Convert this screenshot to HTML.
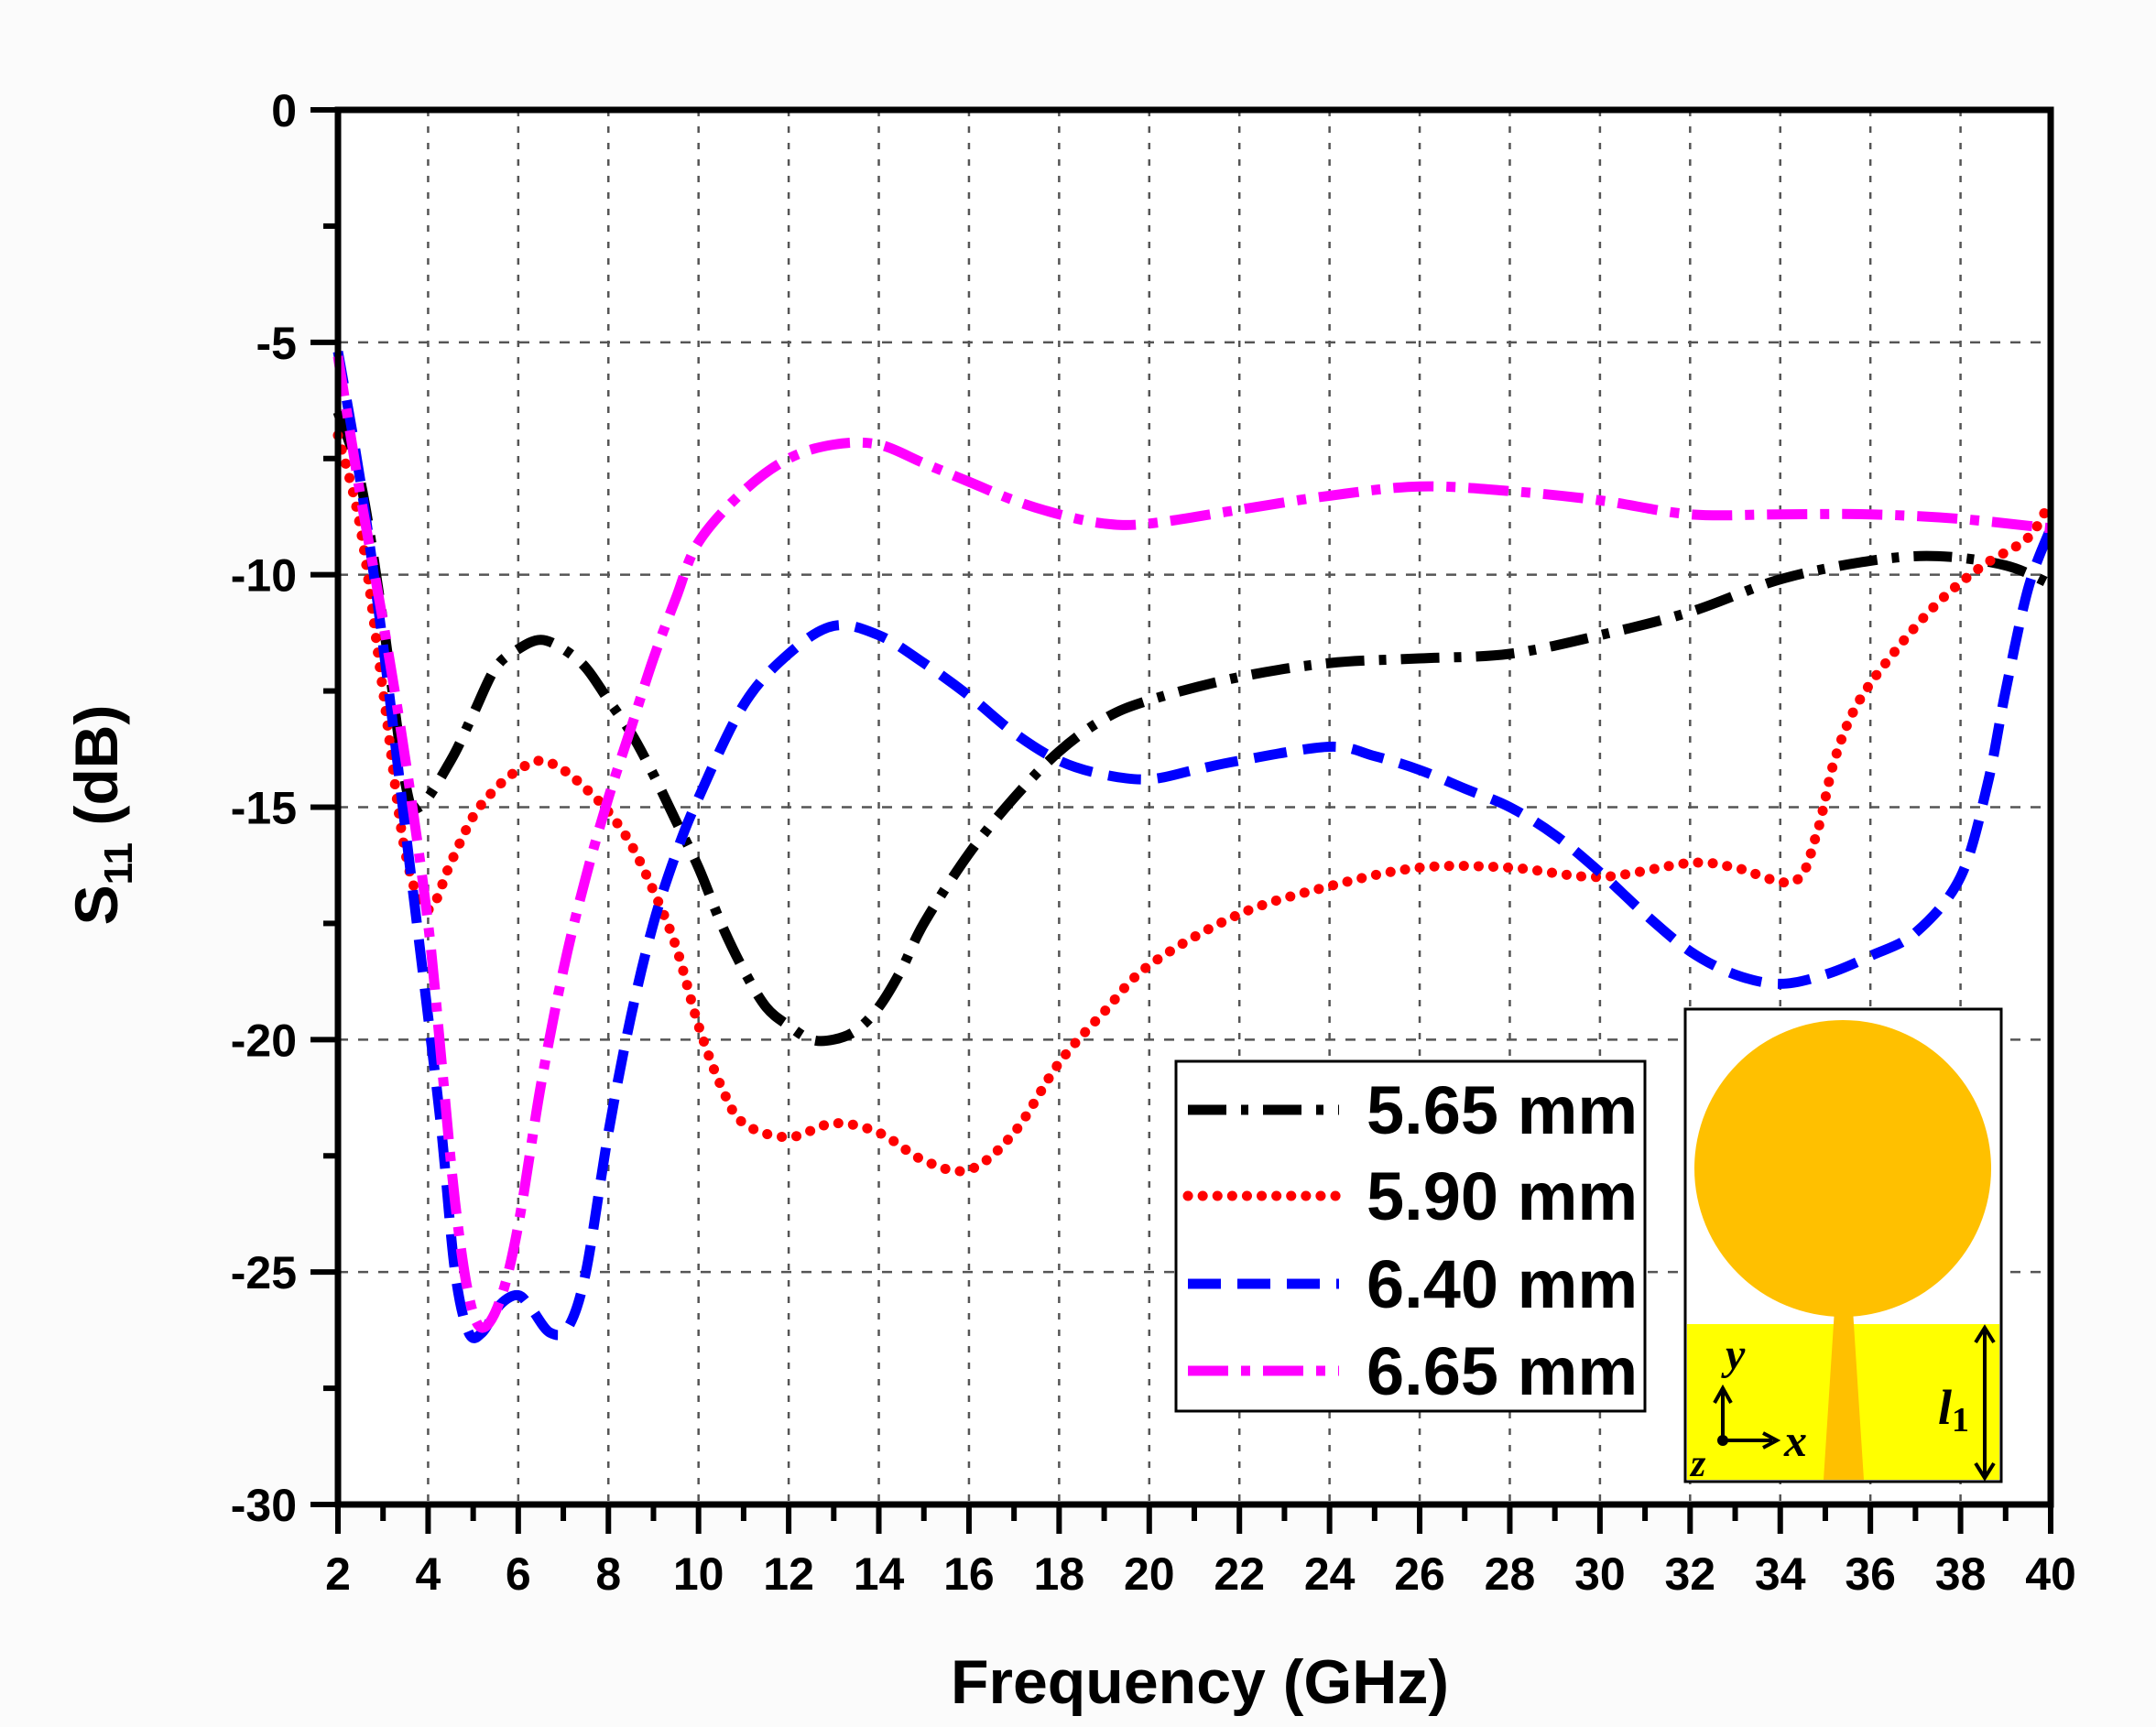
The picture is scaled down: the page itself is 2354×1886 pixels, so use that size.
<!DOCTYPE html>
<html><head><meta charset="utf-8"><style>
html,body{margin:0;padding:0;background:#fbfbfb;}
svg{display:block;font-family:"Liberation Sans",Arial,sans-serif;}
</style></head><body>
<svg id="chart" width="2354" height="1886" viewBox="0 0 2354 1886" xmlns="http://www.w3.org/2000/svg">
<rect x="369" y="120" width="1870" height="1523" fill="#ffffff"/>
<g id="grid"></g>
<g id="series"></g>
<g id="axes"></g>
<g id="legend"></g>
<g id="inset">
  <rect x="1840" y="1102" width="345" height="516" fill="#fff" stroke="#000" stroke-width="3"/>
  <rect x="1842" y="1446" width="341" height="170" fill="#ffff00"/>
  <circle cx="2012" cy="1276" r="162" fill="#ffc000"/>
  <polygon points="2003,1430 2023,1430 2035,1616 1991,1616" fill="#ffc000"/>
  <line x1="1881" y1="1573" x2="1881" y2="1520" stroke="#000" stroke-width="4"/>
  <polyline points="1872,1532 1881,1516 1890,1532" fill="none" stroke="#000" stroke-width="4"/>
  <line x1="1881" y1="1573" x2="1935" y2="1573" stroke="#000" stroke-width="4"/>
  <polyline points="1925,1565 1940,1573 1925,1581" fill="none" stroke="#000" stroke-width="4"/>
  <circle cx="1881" cy="1573" r="6" fill="#000"/>
  <text x="1884" y="1495" font-family="Liberation Serif,serif" font-style="italic" font-weight="bold" font-size="48">y</text>
  <text x="1948" y="1590" font-family="Liberation Serif,serif" font-style="italic" font-weight="bold" font-size="50">x</text>
  <text x="1846" y="1612" font-family="Liberation Serif,serif" font-style="italic" font-weight="bold" font-size="42">z</text>
  <text x="2116" y="1555" font-family="Liberation Serif,serif" font-style="italic" font-weight="bold" font-size="54">l<tspan font-size="38" dy="8" font-style="normal">1</tspan></text>
  <line x1="2167" y1="1454" x2="2167" y2="1610" stroke="#000" stroke-width="4"/>
  <polyline points="2157,1466 2167,1450 2177,1466" fill="none" stroke="#000" stroke-width="4"/>
  <polyline points="2157,1598 2167,1614 2177,1598" fill="none" stroke="#000" stroke-width="4"/>
</g>
<text x="1310" y="1860" text-anchor="middle" font-size="68" font-weight="bold">Frequency (GHz)</text>
<text transform="translate(128,890) rotate(-90)" text-anchor="middle" font-size="66" font-weight="bold">S<tspan font-size="44" dy="16">11</tspan><tspan dy="-16"> (dB)</tspan></text>
</svg>
<script>
const xTicks = [2,4,6,8,10,12,14,16,18,20,22,24,26,28,30,32,34,36,38,40];
const yTicks = [0,-5,-10,-15,-20,-25,-30];
const seriesNames = ["5.65 mm","5.90 mm","6.40 mm","6.65 mm"];
const freqA = [2,2.5,3,3.5,3.8,4.5,5,5.5,6,6.5,7,7.5,8,8.5,9,9.5,10,10.5,11,11.5,12,12.5,13,13.5,14,14.5,15,16,17,18,19,20,22,24,26,28,30,32,34,36,37.5,39,40];
const s11A = [-6.5,-8,-11,-14.5,-15,-14,-13,-12,-11.6,-11.4,-11.6,-12,-12.7,-13.4,-14.3,-15.3,-16.3,-17.5,-18.5,-19.3,-19.7,-20,-20,-19.8,-19.3,-18.5,-17.5,-16,-14.8,-13.8,-13.1,-12.7,-12.2,-11.9,-11.8,-11.7,-11.3,-10.8,-10.1,-9.7,-9.6,-9.8,-10.2];
const freqB = [2,2.5,3,3.5,4,4.5,5,5.5,6,6.5,7,7.5,8,8.5,9,9.5,10,10.5,11,12,13,14,15,16,17,18,19,20,22,24,26,28,30,32,33,34.3,34.8,35.2,35.7,36.5,37.5,38.5,39.5,40];
const s11B = [-7,-9,-12.5,-16,-17.2,-16.2,-15.2,-14.6,-14.2,-14,-14.2,-14.6,-15.1,-15.8,-16.8,-18,-19.7,-21,-21.8,-22.1,-21.8,-22,-22.6,-22.8,-22,-20.5,-19.4,-18.4,-17.3,-16.7,-16.3,-16.3,-16.5,-16.2,-16.3,-16.6,-15.6,-14,-12.8,-11.7,-10.6,-9.8,-9.2,-8.4];
const freqC = [2,2.5,3,3.5,4,4.3,4.6,4.9,5.2,5.6,6,6.3,6.7,7.1,7.5,8,8.5,9,9.5,10,11,12,13,14,15,16,17,18,19,20,21,22,24,25,26,27,28,29,30,31,32,33,34,35,36,37,38,38.6,39,39.5,40];
const s11C = [-5.2,-8,-11.5,-15.5,-19.5,-22,-25,-26.3,-26.3,-25.7,-25.5,-25.8,-26.3,-26.2,-25,-22,-19.5,-17.5,-16,-14.8,-12.8,-11.7,-11.1,-11.3,-11.9,-12.6,-13.4,-14,-14.3,-14.4,-14.2,-14,-13.7,-13.9,-14.2,-14.6,-15,-15.6,-16.4,-17.3,-18.1,-18.6,-18.8,-18.6,-18.2,-17.7,-16.5,-14.5,-12.5,-10.3,-9];
const freqD = [2,2.5,3,3.5,4,4.3,4.6,4.9,5.2,5.6,6,6.5,7,7.5,8,8.5,9,9.5,10,11,12,13,14,15,16,17,18,19,20,22,24,26,28,30,32,34,36,38,40];
const s11D = [-5.3,-8.3,-11,-14,-17.5,-20.5,-23.5,-25.5,-26.2,-25.6,-24,-21,-18.5,-16.5,-14.8,-13.3,-11.8,-10.5,-9.3,-8.2,-7.5,-7.2,-7.2,-7.6,-8,-8.4,-8.7,-8.9,-8.9,-8.6,-8.3,-8.1,-8.2,-8.4,-8.7,-8.7,-8.7,-8.8,-9];

const NS="http://www.w3.org/2000/svg";
const L=369,R=2239,T=120,B=1643;
function xs(f){return L+(f-2)/(40-2)*(R-L);}
function ys(v){return T+(0-v)/30*(B-T);}
function mk(tag,attrs,parent){const e=document.createElementNS(NS,tag);for(const k in attrs)e.setAttribute(k,attrs[k]);parent.appendChild(e);return e;}
function smooth(P){
  let d='M'+P[0][0].toFixed(1)+','+P[0][1].toFixed(1);
  for(let i=0;i<P.length-1;i++){
    const p0=P[Math.max(0,i-1)],p1=P[i],p2=P[i+1],p3=P[Math.min(P.length-1,i+2)];
    const c1=[p1[0]+(p2[0]-p0[0])/6,p1[1]+(p2[1]-p0[1])/6];
    const c2=[p2[0]-(p3[0]-p1[0])/6,p2[1]-(p3[1]-p1[1])/6];
    d+=' C'+c1[0].toFixed(1)+','+c1[1].toFixed(1)+' '+c2[0].toFixed(1)+','+c2[1].toFixed(1)+' '+p2[0].toFixed(1)+','+p2[1].toFixed(1);
  }
  return d;
}
const grid=document.getElementById('grid'),axes=document.getElementById('axes'),ser=document.getElementById('series'),leg=document.getElementById('legend');

xTicks.forEach(t=>{
  if(t>2&&t<40){const g=mk('line',{x1:xs(t),x2:xs(t),y1:T,y2:B,stroke:'#555','stroke-width':2.5,'stroke-dasharray':'7 11'},grid);
  
  }
  const tk=mk('line',{x1:xs(t),x2:xs(t),y1:B,y2:B+32,stroke:'#000','stroke-width':6},axes);
  
  
  if(t<40){const m=mk('line',{x1:xs(t+1),x2:xs(t+1),y1:B,y2:B+18,stroke:'#000','stroke-width':6},axes);
  
  }
  const lb=mk('text',{x:xs(t),y:B+93,'text-anchor':'middle','font-size':50,'font-weight':'bold'},axes);
  lb.textContent=t;
  
  
});
yTicks.forEach(t=>{
  if(t<0&&t>-30){const g=mk('line',{x1:L,x2:R,y1:ys(t),y2:ys(t),stroke:'#555','stroke-width':2.5,'stroke-dasharray':'11 11'},grid);
  
  }
  const tk=mk('line',{x1:L-30,x2:L,y1:ys(t),y2:ys(t),stroke:'#000','stroke-width':6},axes);
  
  
  if(t>-30){const m=mk('line',{x1:L-16,x2:L,y1:ys(t-2.5),y2:ys(t-2.5),stroke:'#000','stroke-width':6},axes);
  
  }
  const lb=mk('text',{x:L-45,y:ys(t)+18,'text-anchor':'end','font-size':50,'font-weight':'bold'},axes);
  lb.textContent=t;
  
  
});
const fr=mk('path',{d:`M${L},${T}H${R}V${B}H${L}Z`,fill:'none',stroke:'#000','stroke-width':7},axes);



const styles=[
 {c:'#000000',d:'42 16 8 16',cap:'butt',n:'series-5-65mm'},
 {c:'#ff0000',d:'0.1 16',cap:'round',n:'series-5-90mm'},
 {c:'#0000ff',d:'36 18',cap:'butt',n:'series-6-40mm'},
 {c:'#ff00ff',d:'44 14 10 14',cap:'butt',n:'series-6-65mm'}];
const data=[[freqA,s11A],[freqB,s11B],[freqC,s11C],[freqD,s11D]];
data.forEach((d,i)=>{
  const P=d[0].map((f,j)=>[xs(f),ys(d[1][j])]);
  const p=mk('path',{d:smooth(P),fill:'none',stroke:styles[i].c,'stroke-width':i==1?11:11,'stroke-dasharray':styles[i].d,'stroke-linecap':styles[i].cap,'stroke-linejoin':'round'},ser);
  
  
});

const box=mk('rect',{x:1284,y:1159,width:512,height:382,fill:'#fff',stroke:'#000','stroke-width':3},leg);


const rows=[1212,1306,1402,1497];
seriesNames.forEach((n,i)=>{
  const ln=mk('line',{x1:1297,x2:1462,y1:rows[i],y2:rows[i],stroke:styles[i].c,'stroke-width':11,'stroke-dasharray':styles[i].d,'stroke-linecap':styles[i].cap},leg);
  
  
  const tx=mk('text',{x:1492,y:rows[i]+26,'font-size':74,'font-weight':'bold'},leg);
  tx.textContent=n;
  
  
});
</script>
</body></html>
